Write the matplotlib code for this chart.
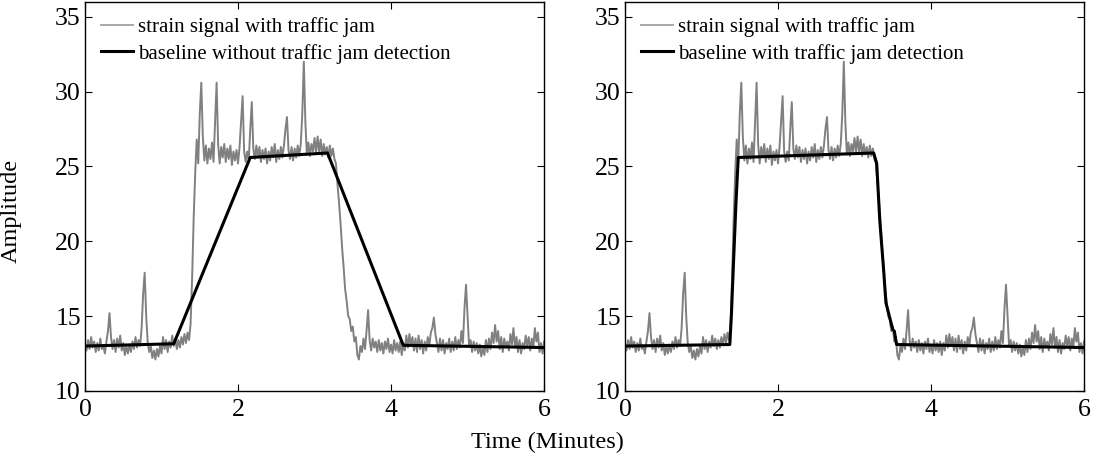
import numpy as np
import matplotlib; matplotlib.use("Agg")
import matplotlib.pyplot as plt

plt.rcParams["font.family"] = ["Liberation Serif", "DejaVu Serif"]

DT = 0.02  # minutes between read-off samples

# strain signal (same trace in both panels)
sig_quiet = [13.1, 12.7, 13.4, 12.8, 13.6, 12.9, 13.3, 12.6, 13.2, 12.7,
             13.5, 12.8, 13.0, 12.5, 13.3, 14.0, 15.2, 13.6, 12.8, 13.4,
             12.6, 13.5, 12.9, 13.7, 12.7, 13.2, 12.4, 13.0, 12.5, 13.1,
             12.6, 13.3, 12.8, 13.6, 12.9, 13.4, 13.0, 14.2, 16.5, 17.9,
             15.0, 13.2, 12.6, 13.0, 12.2, 12.7, 12.1, 12.8, 12.3, 13.0,
             12.5, 13.6, 12.8, 13.4, 12.6, 13.3, 12.9, 13.7, 13.0, 13.5,
             12.8, 13.4, 12.9, 13.6, 13.1, 13.8, 13.2, 13.9, 13.4]
sig_jam = [14.5, 17.5, 21.5, 24.5, 26.8, 25.2, 28.5, 30.6, 27.0, 25.4,
           26.4, 25.2, 26.2, 25.5, 26.6, 25.3, 28.0, 30.6, 26.5, 25.2,
           26.3, 25.6, 26.5, 25.3, 26.2, 25.5, 26.4, 25.1, 26.0, 25.4,
           26.1, 25.2, 26.3, 28.0, 29.7, 26.0, 25.3, 26.0, 25.4, 27.5,
           29.3, 26.2, 25.5, 26.4, 25.6, 26.3, 25.3, 26.1, 25.5, 26.2,
           25.2, 26.0, 25.4, 26.3, 25.6, 26.5, 25.3, 26.1, 25.5, 26.3,
           25.6, 26.4, 27.5, 28.3, 26.1, 25.5, 26.3, 25.4, 26.2, 25.6,
           26.4, 25.7, 26.5, 28.5, 32.0, 28.0, 25.8, 26.6, 25.7, 26.5,
           26.0, 26.9, 25.9, 27.0, 26.0, 26.8, 25.7, 26.5, 25.8, 26.3,
           25.6, 26.4, 25.7, 26.2, 25.5]
sig_release = [25.2, 23.8, 22.6, 21.2, 19.6, 18.3, 16.8, 16.0, 15.0, 14.8,
               14.0, 14.3, 13.3, 13.6, 12.4, 12.1, 13.0, 12.6, 13.5, 12.8,
               14.0, 15.4, 13.4, 12.7, 13.5, 12.9]
sig_after = [13.3, 12.6, 13.4, 12.7, 13.2, 12.5, 13.3, 12.8, 13.5, 12.6,
             13.1, 12.5, 13.4, 12.7, 13.2, 12.6, 13.3, 12.4, 13.2, 12.7,
             13.7, 12.9, 13.8, 13.0, 13.6, 12.7, 13.5, 12.6, 13.7, 12.8,
             13.4, 12.5, 13.3, 12.7, 13.6, 13.0, 13.9, 14.2, 14.9, 13.8,
             13.2, 12.6, 13.5, 12.7, 13.4, 12.5, 13.2, 12.8, 13.5, 12.6,
             13.3, 12.7, 13.6, 12.8, 13.4, 12.9, 14.0, 13.2, 15.5, 17.1,
             15.0, 13.0, 13.4, 12.6, 13.3, 12.7, 13.2, 12.5, 13.1, 12.3,
             12.9, 12.4, 13.4, 12.6, 13.5, 12.8, 13.9, 13.2, 14.4, 13.3,
             14.0, 12.8, 13.6, 12.6, 13.5, 12.9, 13.3, 12.7, 13.8, 13.1,
             14.2, 12.9, 13.6, 12.6, 13.4, 12.5, 13.2, 12.8, 13.7, 13.0,
             13.6, 12.7, 13.5, 12.9, 14.2, 13.3, 13.9, 12.6, 13.2, 12.5,
             13.3]

# baselines
base_left_t = [0.0, 1.16, 2.16, 3.17, 4.16, 6.0]
base_left_y = [13.0, 13.15, 25.6, 25.9, 13.05, 12.9]
base_right_t = [0.0, 1.37, 1.39, 1.42, 1.45, 1.48, 3.25, 3.29, 3.33, 3.38,
                3.41, 3.46, 3.48, 3.50, 3.52, 3.55, 6.0]
base_right_y = [13.0, 13.1, 15.0, 18.8, 22.5, 25.6, 25.9, 25.2, 21.4, 18.1,
                15.9, 14.9, 14.5, 14.1, 14.0, 13.1, 12.9]

signal = np.array(sig_quiet + sig_jam + sig_release + sig_after)
t = np.arange(len(signal)) * DT

fig = plt.figure(figsize=(10.94, 4.61), dpi=100)
ax1 = fig.add_axes([0.0777, 0.152, 0.4196, 0.844])
ax2 = fig.add_axes([0.5713, 0.152, 0.4196, 0.844])

panels = [(ax1, base_left_t, base_left_y, "baseline without traffic jam detection"),
          (ax2, base_right_t, base_right_y, "baseline with traffic jam detection")]
for ax, bt, by, lab in panels:
    ax.plot(t, signal, color="#808080", lw=1.4, label="strain signal with traffic jam")
    ax.plot(bt, by, color="black", lw=2.2, label=lab)
    ax.set_xlim(0, 6)
    ax.set_ylim(10, 36)
    ax.set_xticks([0, 2, 4, 6])
    ax.set_yticks([10, 15, 20, 25, 30, 35])
    ax.tick_params(direction="in", top=True, right=True, labelsize=18.5, length=5)
    ax.tick_params(axis="x", pad=6)
    ax.tick_params(axis="y", pad=3)
    leg = ax.legend(loc="upper left", frameon=False, fontsize=15.0, handlelength=1.55,
                    handletextpad=0.25, borderaxespad=0.45, labelspacing=0.3,
                    borderpad=0.3)
    leg.get_lines()[0].set_color("#a8a8a8")
    for s in ax.spines.values():
        s.set_linewidth(1.0)

ax1.set_ylabel("Amplitude", fontsize=17.5)
ax1.yaxis.set_label_coords(-0.137, 0.463)
fig.text(0.5, 0.04, "Time (Minutes)", ha="center", va="center", fontsize=17.5)

fig.savefig("out.png", dpi=100)
